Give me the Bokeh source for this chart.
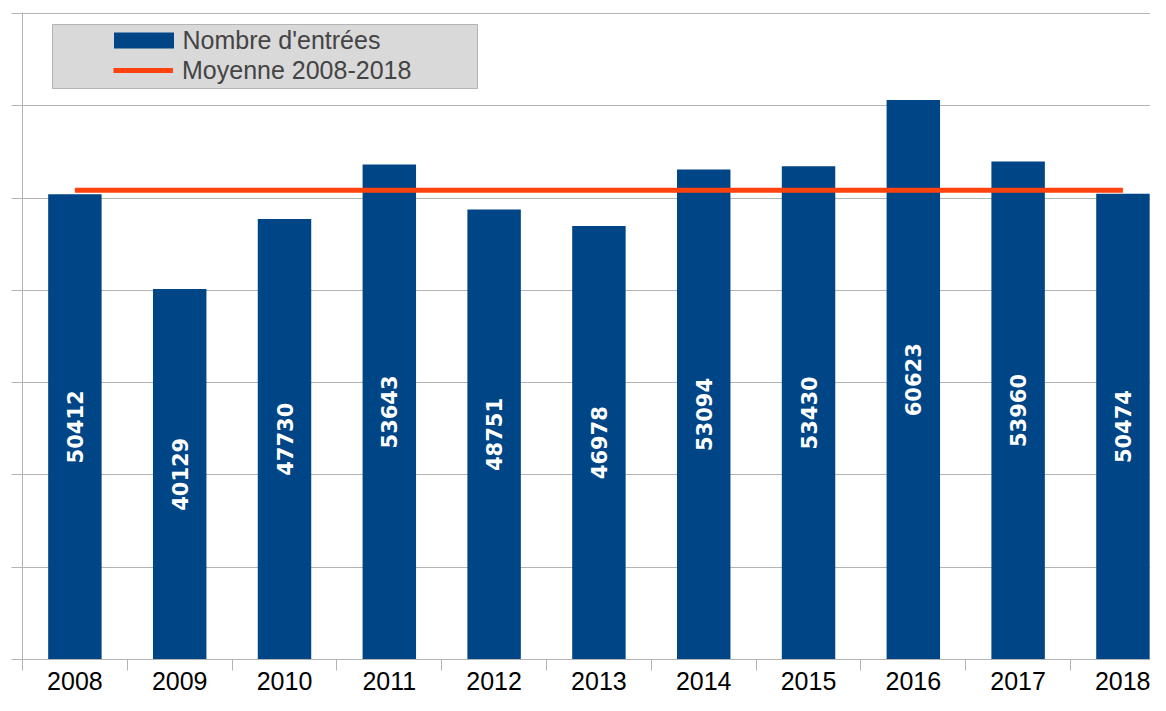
from bokeh.plotting import figure
from bokeh.models import (Range1d, FixedTicker, CustomJSTickFormatter, Legend, LegendItem,
                          BoxAnnotation, ColumnDataSource)
from bokeh.core.properties import value
from bokeh.embed import file_html
from bokeh.resources import INLINE

# ---- data ----
years = ["2008", "2009", "2010", "2011", "2012", "2013", "2014", "2015", "2016", "2017", "2018"]
entries = [50412, 40129, 47730, 53643, 48751, 46978, 53094, 53430, 60623, 53960, 50474]
moyenne = 50838.5
y_ticks = [0, 10000, 20000, 30000, 40000, 50000, 60000, 70000]

BLUE = "#004586"
ORANGE = "#ff420e"
GRID = "#b3b3b3"

xs = [i + 0.5 for i in range(len(years))]
src = ColumnDataSource(dict(x=xs, top=entries, mid=[v / 2 for v in entries],
                            lab=[str(v) for v in entries]))

W, H = 1150, 695
TOP, BOTTOM, LEFT = 12, 36, 22
FH = H - TOP - BOTTOM  # frame height

p = figure(width=W, height=H, output_backend="svg", toolbar_location=None,
           x_range=Range1d(0, 10.763), y_range=Range1d(0, 70100),
           min_border_left=LEFT, min_border_right=0, min_border_top=TOP,
           min_border_bottom=BOTTOM)
p.outline_line_color = None
p.background_fill_color = "white"

bars = p.vbar(x="x", top="top", width=0.51, bottom=0, source=src,
              fill_color=BLUE, line_color=None)
line = p.line(x=[xs[0], xs[-1]], y=[moyenne, moyenne], line_color=ORANGE, line_width=5)

p.text(x="x", y="mid", text="lab", source=src, angle=1.5707963,
       text_align="center", text_baseline="middle", text_color="white",
       text_font=value("DejaVu Sans"), text_font_style="bold", text_font_size="21px")

# x axis: labels at centres, ticks between categories
xa = p.xaxis[0]
xa.ticker = FixedTicker(ticks=xs, minor_ticks=list(range(len(years))))
xa.formatter = CustomJSTickFormatter(args=dict(years=years),
                                     code="return years[Math.floor(tick)] || ''")
xa.major_tick_line_color = None
xa.major_tick_out = 7
xa.major_tick_in = 0
xa.minor_tick_line_color = GRID
xa.minor_tick_out = 11
xa.minor_tick_in = 0
xa.axis_line_color = GRID
xa.major_label_text_font = "Liberation Sans"
xa.major_label_text_font_size = "25px"
xa.major_label_text_color = "black"
xa.major_label_standoff = 1

ya = p.yaxis[0]
ya.ticker = FixedTicker(ticks=y_ticks)
ya.formatter = CustomJSTickFormatter(code="return ''")
ya.major_tick_out = 11
ya.major_tick_in = 0
ya.major_tick_line_color = GRID
ya.minor_tick_line_color = None
ya.axis_line_color = GRID
ya.major_label_standoff = 0

p.xgrid.grid_line_color = None
p.ygrid.grid_line_color = GRID

# legend (screen units are relative to the frame's bottom-left corner)
box = BoxAnnotation(left=30, right=455, top=FH - 12, bottom=FH - 76,
                    left_units="screen", right_units="screen",
                    top_units="screen", bottom_units="screen",
                    fill_color="#d9d9d9", fill_alpha=1, line_color="#333333", line_width=1,
                    level="annotation")
p.add_layout(box)

common = dict(padding=0, margin=0, border_line_color=None, background_fill_alpha=0,
              label_text_font="Liberation Sans", label_text_font_size="25px",
              label_height=30, glyph_height=20)
leg1 = Legend(items=[LegendItem(label="Nombre d'entrées", renderers=[bars])],
              location=(83.5, FH - 43), glyph_width=75, label_standoff=2, **common)
leg2 = Legend(items=[LegendItem(label="Moyenne 2008-2018", renderers=[line])],
              location=(91, FH - 73), glyph_width=60, label_standoff=9, **common)
p.add_layout(leg1)
p.add_layout(leg2)

open("out.html", "w").write(file_html(p, INLINE))
